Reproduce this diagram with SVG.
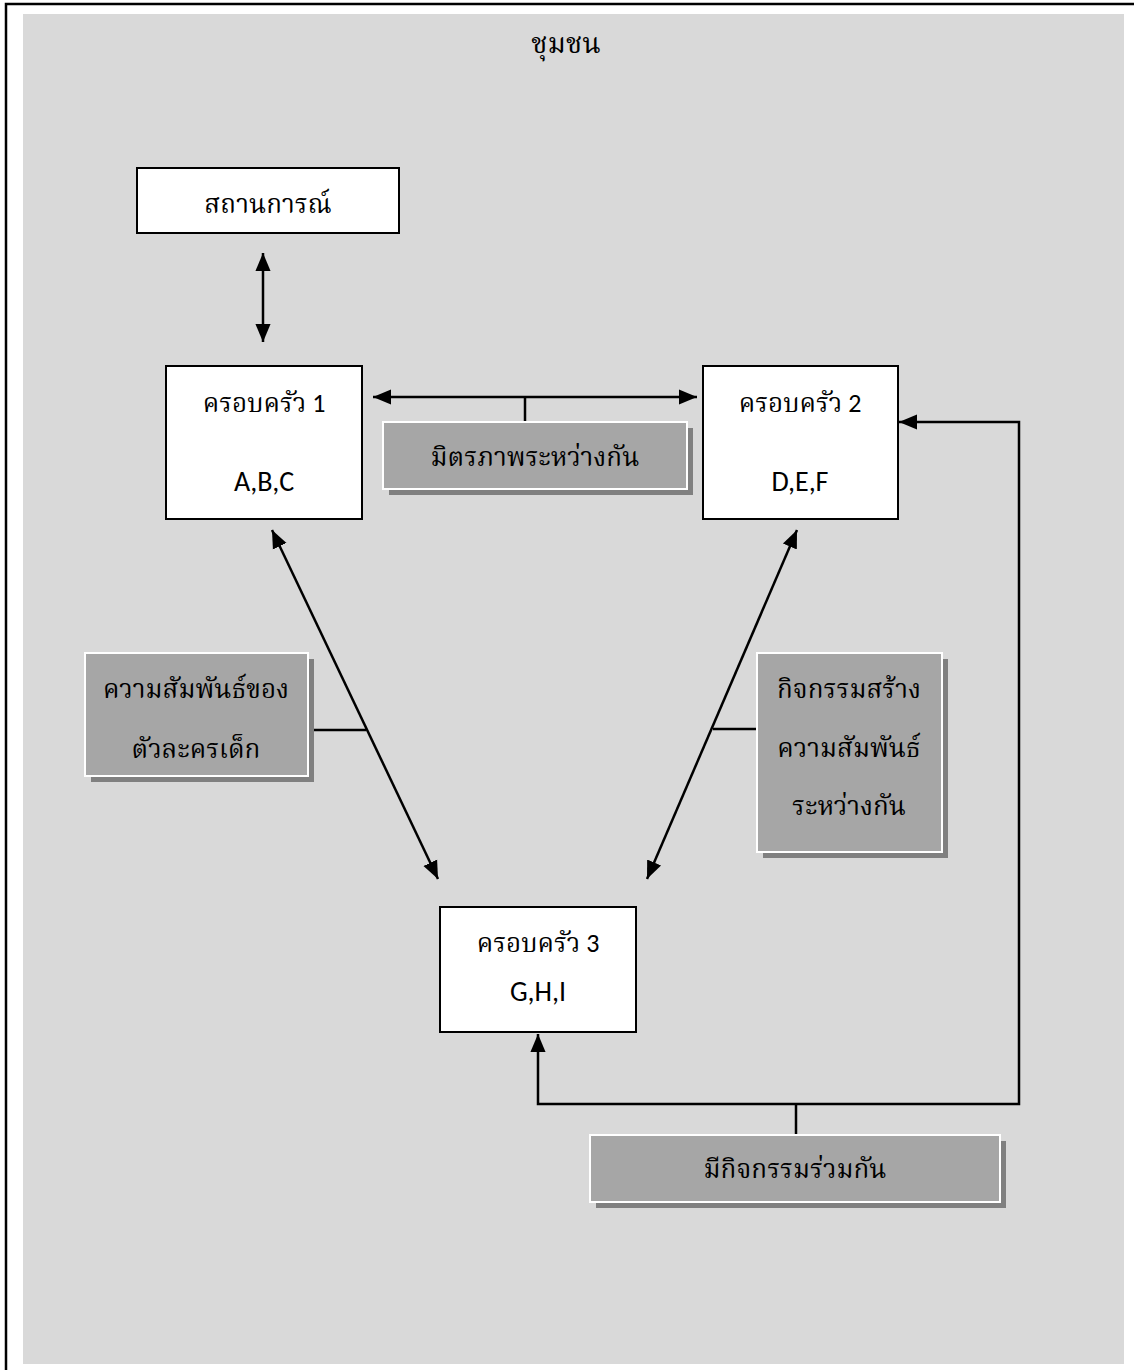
<svg xmlns="http://www.w3.org/2000/svg" width="1134" height="1370" viewBox="0 0 1134 1370">
<style>
.th{font-family:"Noto Serif Thai","Norasi","Loma","Garuda","Noto Sans Thai","DejaVu Sans",serif;font-size:26px;fill:#000;text-anchor:middle}
.mx{font-family:"Carlito","Lato","Noto Serif Thai","Norasi","Loma","Noto Sans Thai","DejaVu Sans",sans-serif;font-size:26px;fill:#000;text-anchor:middle}
.lt{font-family:"Carlito","Lato",sans-serif;font-size:28px;fill:#000;text-anchor:middle}
.box{fill:#fff;stroke:#000;stroke-width:2}
.lab{fill:#a6a6a6;stroke:#fff;stroke-width:2}
.sh{fill:#808080}
.ln{fill:none;stroke:#000;stroke-width:2.5}
</style>
<defs>
<marker id="ah2" viewBox="0 0 10 10" refX="10" refY="5" markerWidth="18" markerHeight="18" markerUnits="userSpaceOnUse" orient="auto-start-reverse">
<path d="M0,0.8 L10,5 L0,9.2 Z" fill="#000"/>
</marker>
</defs>
<rect x="6" y="4" width="1140" height="1380" fill="#fff" stroke="#000" stroke-width="2.5"/>
<rect x="23" y="14" width="1101" height="1350" fill="#d9d9d9"/>
<text class="th" x="566" y="53" style="font-size:28px">ชุมชน</text>

<g id="connectors">
<line class="ln" x1="263" y1="253" x2="263" y2="342" marker-start="url(#ah2)" marker-end="url(#ah2)"/>
<line class="ln" x1="373" y1="397" x2="697" y2="397" marker-start="url(#ah2)" marker-end="url(#ah2)"/>
<line class="ln" x1="525" y1="397" x2="525" y2="423"/>
<line class="ln" x1="272" y1="530" x2="438" y2="879" marker-start="url(#ah2)" marker-end="url(#ah2)"/>
<line class="ln" x1="309" y1="730" x2="366" y2="730"/>
<line class="ln" x1="797" y1="530" x2="647" y2="879" marker-start="url(#ah2)" marker-end="url(#ah2)"/>
<line class="ln" x1="713" y1="729" x2="757" y2="729"/>
<polyline class="ln" points="538,1034 538,1104 1019,1104 1019,422 899,422" marker-start="url(#ah2)" marker-end="url(#ah2)"/>
<line class="ln" x1="796" y1="1104" x2="796" y2="1135"/>
</g>

<g id="n-situation">
<rect class="box" x="137" y="168" width="262" height="65"/>
<text class="th" x="268" y="213">สถานการณ์</text>
</g>
<g id="n-family1">
<rect class="box" x="166" y="366" width="196" height="153"/>
<text class="mx" x="264" y="412">ครอบครัว 1</text>
<text class="lt" x="264" y="491">A,B,C</text>
</g>
<g id="n-family2">
<rect class="box" x="703" y="366" width="195" height="153"/>
<text class="mx" x="800" y="412">ครอบครัว 2</text>
<text class="lt" x="800" y="491">D,E,F</text>
</g>
<g id="n-family3">
<rect class="box" x="440" y="907" width="196" height="125"/>
<text class="mx" x="538" y="952">ครอบครัว 3</text>
<text class="lt" x="538" y="1001">G,H,I</text>
</g>
<g id="n-friendship">
<rect class="sh" x="389" y="428" width="304" height="67"/>
<rect class="lab" x="383" y="422" width="304" height="67"/>
<text class="th" x="535" y="466">มิตรภาพระหว่างกัน</text>
</g>
<g id="n-children">
<rect class="sh" x="91" y="659" width="223" height="123"/>
<rect class="lab" x="85" y="653" width="223" height="123"/>
<text class="th" x="196" y="698">ความสัมพันธ์ของ</text>
<text class="th" x="196" y="758">ตัวละครเด็ก</text>
</g>
<g id="n-activity">
<rect class="sh" x="763" y="659" width="185" height="199"/>
<rect class="lab" x="757" y="653" width="185" height="199"/>
<text class="th" x="849" y="698">กิจกรรมสร้าง</text>
<text class="th" x="849" y="757">ความสัมพันธ์</text>
<text class="th" x="849" y="815">ระหว่างกัน</text>
</g>
<g id="n-joint">
<rect class="sh" x="596" y="1141" width="410" height="67"/>
<rect class="lab" x="590" y="1135" width="410" height="67"/>
<text class="th" x="795" y="1178">มีกิจกรรมร่วมกัน</text>
</g>
</svg>
